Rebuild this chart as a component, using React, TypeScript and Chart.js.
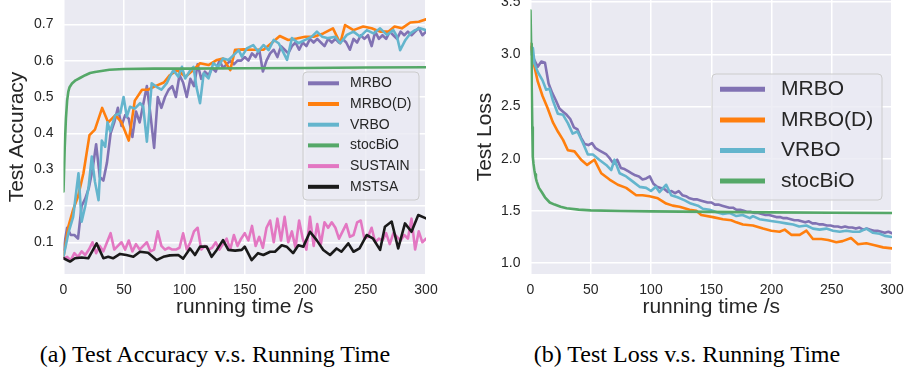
import React, { useEffect, useRef } from "react";
import { Chart, registerables } from "chart.js";

Chart.register(...registerables);

const FONT = '"Liberation Sans", Arial, sans-serif';
const TEXT = "#262626";

// ---------- (a) Test Accuracy ----------
const T3 = Array.from({ length: 101 }, (_, i) => i * 3);

const accMRBO = [
  0.08, 0.14, 0.12, 0.12, 0.11, 0.2, 0.22, 0.25, 0.3, 0.37,
  0.28, 0.27, 0.32, 0.4, 0.43, 0.47, 0.42, 0.45, 0.44, 0.39,
  0.46, 0.43, 0.48, 0.53, 0.45, 0.36, 0.5, 0.47, 0.5, 0.52,
  0.53, 0.5, 0.56, 0.54, 0.5, 0.55, 0.53, 0.59, 0.55, 0.57,
  0.56, 0.58, 0.57, 0.6, 0.58, 0.59, 0.6, 0.59, 0.6, 0.6,
  0.61, 0.6, 0.62, 0.61, 0.63, 0.57, 0.6, 0.62, 0.63, 0.61,
  0.64, 0.63, 0.62, 0.64, 0.65, 0.63, 0.65, 0.64, 0.66, 0.65,
  0.66, 0.65, 0.64, 0.66, 0.65, 0.66, 0.65, 0.66, 0.65, 0.63,
  0.66, 0.65, 0.67, 0.66, 0.67, 0.64, 0.68, 0.66, 0.67, 0.66,
  0.68, 0.67, 0.66, 0.68, 0.67, 0.68, 0.67, 0.68, 0.69, 0.67,
  0.68,
];

const accMRBODTime = [
  0, 4, 8, 12, 16.5, 21.5, 26, 32, 37, 43, 48, 54, 59, 65, 70, 76, 83, 88, 94, 101,
  106, 113, 120, 127, 132, 138, 142, 149, 157, 165.5, 172, 179, 186, 193, 200, 207,
  215, 223, 229, 233, 240, 248, 255, 262, 269, 274, 280, 287, 294, 300,
];
const accMRBOD = [
  0.06, 0.143, 0.19, 0.226, 0.29, 0.395, 0.41, 0.47, 0.43, 0.45, 0.43, 0.38, 0.49, 0.52,
  0.52, 0.53, 0.54, 0.56, 0.574, 0.556, 0.57, 0.593, 0.588, 0.602, 0.606, 0.574, 0.63,
  0.631, 0.63, 0.63, 0.648, 0.668, 0.657, 0.661, 0.666, 0.666, 0.675, 0.689, 0.648,
  0.698, 0.684, 0.694, 0.689, 0.68, 0.68, 0.694, 0.689, 0.705, 0.707, 0.714,
];

const accVRBOTime = [
  0, 4, 8, 12.4, 15, 18, 20.7, 23.4, 26, 29, 31.7, 34.5, 36.4, 38.6, 42.8, 47, 49.7,
  52.4, 55, 59, 63.4, 66, 69, 73, 77, 81, 85.5, 88, 91, 95, 98, 100.7, 105, 107.6, 110,
  113, 116, 120, 124, 128, 132, 136.6, 141, 145, 147.6, 151.7, 157, 161, 165.5, 169.7,
  174, 178, 181, 185, 189, 194.5, 200, 205.5, 209.7, 214, 219, 225, 229, 234.5, 240,
  245.5, 251, 256.5, 262, 267.6, 273, 276, 278.6, 283, 287, 291, 295, 300,
];
const accVRBO = [
  0.06, 0.125, 0.17, 0.29, 0.157, 0.2, 0.25, 0.336, 0.267, 0.216, 0.38, 0.363, 0.43,
  0.405, 0.45, 0.455, 0.5, 0.446, 0.473, 0.468, 0.483, 0.473, 0.377, 0.538, 0.528, 0.52,
  0.538, 0.556, 0.574, 0.556, 0.583, 0.551, 0.574, 0.583, 0.528, 0.483, 0.565, 0.551,
  0.593, 0.583, 0.606, 0.602, 0.616, 0.629, 0.611, 0.634, 0.643, 0.625, 0.643, 0.629,
  0.657, 0.648, 0.629, 0.602, 0.662, 0.648, 0.657, 0.666, 0.68, 0.666, 0.662, 0.666,
  0.648, 0.671, 0.68, 0.666, 0.684, 0.675, 0.689, 0.671, 0.684, 0.666, 0.629, 0.657,
  0.675, 0.684, 0.689, 0.684,
];

const accStocTime = [0, 1, 2, 3, 4, 5, 7, 10, 14, 18, 22, 26, 30, 38, 50, 75, 100, 150, 200, 250, 300];
const accStoc = [
  0.24, 0.36, 0.44, 0.49, 0.515, 0.527, 0.537, 0.546, 0.553, 0.56, 0.566, 0.569, 0.571,
  0.575, 0.577, 0.578, 0.578, 0.579, 0.58, 0.581, 0.582,
];

const accSUSTAIN = [
  0.055, 0.06, 0.05, 0.07, 0.06, 0.075, 0.065, 0.08, 0.1, 0.07,
  0.09, 0.075, 0.1, 0.125, 0.08, 0.09, 0.1, 0.08, 0.105, 0.075,
  0.095, 0.08, 0.09, 0.1, 0.075, 0.08, 0.13, 0.09, 0.08, 0.085,
  0.08, 0.08, 0.085, 0.125, 0.08, 0.1, 0.13, 0.14, 0.08, 0.09,
  0.08, 0.085, 0.1, 0.08, 0.095, 0.11, 0.08, 0.12, 0.09, 0.11,
  0.125, 0.105, 0.145, 0.09, 0.115, 0.085, 0.14, 0.16, 0.1, 0.165,
  0.105, 0.17, 0.1, 0.13, 0.085, 0.16, 0.11, 0.08, 0.17, 0.09,
  0.15, 0.095, 0.155, 0.14, 0.155, 0.14, 0.11, 0.13, 0.15, 0.115,
  0.12, 0.155, 0.16, 0.11, 0.115, 0.14, 0.1, 0.11, 0.105, 0.125,
  0.095, 0.125, 0.115, 0.105, 0.12, 0.11, 0.165, 0.08, 0.13, 0.1,
  0.11,
];

const accMSTSATime = [
  0, 5.4, 9.5, 15, 20.5, 27.4, 33, 37, 41, 46.8, 52, 57.8, 63.3, 70, 77, 82.6, 88, 95, 99,
  104.7, 108.8, 113, 118.5, 122.6, 126.8, 132, 136.4, 142, 147.5, 150, 155.7, 161, 165.4,
  171, 175, 180.6, 184.7, 190, 194.4, 198.5, 204, 209.5, 215, 220.6, 226, 230, 235.7, 240,
  245, 250.9, 256, 262, 266, 271.6, 277, 282.6, 288, 293.6, 300,
];
const accMSTSA = [
  0.056, 0.047, 0.056, 0.058, 0.056, 0.097, 0.056, 0.06, 0.056, 0.068, 0.065, 0.06, 0.074,
  0.071, 0.051, 0.06, 0.064, 0.065, 0.055, 0.083, 0.065, 0.088, 0.088, 0.06, 0.079, 0.106,
  0.079, 0.077, 0.079, 0.088, 0.051, 0.07, 0.065, 0.074, 0.074, 0.092, 0.088, 0.07, 0.092,
  0.088, 0.129, 0.106, 0.079, 0.065, 0.083, 0.074, 0.097, 0.074, 0.083, 0.12, 0.111, 0.079,
  0.143, 0.157, 0.083, 0.152, 0.129, 0.175, 0.166,
];

// ---------- (b) Test Loss ----------
const lossMRBO = [
  3.07, 2.95, 2.88, 2.93, 2.92, 2.72, 2.63, 2.56, 2.48, 2.45,
  2.42, 2.38, 2.3, 2.28, 2.2, 2.14, 2.13, 2.15, 2.1, 2.08,
  2.06, 2.04, 2.0, 1.95, 1.99, 1.91, 1.9, 1.88, 1.86, 1.84,
  1.83, 1.8, 1.81, 1.83, 1.76, 1.73, 1.72, 1.71, 1.68, 1.69,
  1.67, 1.69, 1.65, 1.64, 1.62, 1.61, 1.61, 1.6, 1.59, 1.58,
  1.58, 1.56, 1.56, 1.55, 1.54, 1.53, 1.53, 1.51, 1.51, 1.5,
  1.49, 1.49, 1.48, 1.48, 1.47, 1.46, 1.46, 1.45, 1.44, 1.44,
  1.43, 1.43, 1.42, 1.41, 1.41, 1.4, 1.39, 1.4, 1.38, 1.38,
  1.37, 1.37, 1.36, 1.36, 1.35, 1.35, 1.34, 1.35, 1.34, 1.34,
  1.33, 1.34, 1.32, 1.33, 1.32, 1.31, 1.31, 1.3, 1.29, 1.3,
  1.285,
];

const lossMRBODTime = [
  0, 3.3, 6, 10, 14, 18.5, 22.7, 27, 31, 36.5, 42, 47, 53, 58.7, 65.6, 72.5, 79.4, 87.7, 93,
  98.8, 105.7, 112.6, 118, 123.7, 132, 137.6, 141.7, 151.4, 159.7, 166.6, 170.8, 176.3,
  184.6, 193, 199.8, 206.7, 211, 216.4, 223.4, 229, 234.4, 241.3, 247, 253.8, 259, 266,
  271.8, 278.7, 285.6, 292.6, 300,
];
const lossMRBOD = [
  3.1, 2.88, 2.74, 2.6, 2.49, 2.35, 2.26, 2.18, 2.08, 2.07, 1.99, 1.94, 1.99, 1.86, 1.8,
  1.75, 1.72, 1.65, 1.65, 1.64, 1.62, 1.57, 1.55, 1.54, 1.51, 1.5, 1.46, 1.44, 1.42, 1.41,
  1.39, 1.37, 1.36, 1.33, 1.31, 1.3, 1.32, 1.27, 1.27, 1.31, 1.23, 1.23, 1.22, 1.2, 1.21,
  1.24, 1.18, 1.19, 1.17, 1.15, 1.14,
];

const lossVRBOTime = [
  0, 2, 3.3, 6, 10, 13, 15.8, 18.5, 22.7, 27, 31, 35, 39, 43.5, 47.6, 51.8, 57, 62.8, 67,
  69.7, 74, 79.4, 85, 90.5, 96, 100, 104, 107, 112.6, 116.8, 122, 128, 133, 139, 143,
  148.6, 154, 159.7, 165, 170.8, 176, 182, 184.6, 190, 195.7, 201, 206.7, 212, 218, 223,
  229, 234.4, 240, 245.5, 251, 256.6, 262, 267.6, 273, 278.7, 284, 289.8, 294, 300,
];
const lossVRBO = [
  3.0, 3.06, 2.91, 2.83, 2.75, 2.66, 2.67, 2.56, 2.43, 2.42, 2.34, 2.24, 2.26, 2.15, 2.04,
  2.04, 1.99, 1.94, 1.89, 1.99, 1.86, 1.83, 1.78, 1.73, 1.72, 1.69, 1.73, 1.68, 1.75, 1.65,
  1.63, 1.6, 1.57, 1.55, 1.52, 1.51, 1.49, 1.47, 1.48, 1.45, 1.46, 1.43, 1.45, 1.42, 1.41,
  1.4, 1.39, 1.38, 1.37, 1.35, 1.36, 1.33, 1.32, 1.33, 1.31, 1.3, 1.31, 1.3, 1.3, 1.33,
  1.29, 1.28, 1.26, 1.25,
];

const lossStocTime = [
  0, 0.5, 1, 1.5, 1.9, 2.5, 3.2, 3.8, 4.5, 5.2, 7, 9.3, 12, 16, 20, 25, 30, 40, 50, 75, 100,
  150, 200, 250, 300,
];
const lossStoc = [
  3.42, 3.1, 2.7, 2.3, 2.02, 1.95, 1.89, 1.85, 1.81, 1.78, 1.72, 1.68, 1.63, 1.58, 1.56,
  1.54, 1.525, 1.512, 1.505, 1.498, 1.495, 1.49, 1.485, 1.482, 1.48,
];

const C_MRBO = "#8172B3";
const C_MRBOD = "#FF7F0E";
const C_VRBO = "#64B5CD";
const C_STOC = "#55A868";
const C_SUSTAIN = "#E377C2";
const C_MSTSA = "#1A1A1A";

type Series = { label: string; t: number[]; v: number[]; color: string };

const accSeries: Series[] = [
  { label: "MRBO", t: T3, v: accMRBO, color: C_MRBO },
  { label: "MRBO(D)", t: accMRBODTime, v: accMRBOD, color: C_MRBOD },
  { label: "VRBO", t: accVRBOTime, v: accVRBO, color: C_VRBO },
  { label: "stocBiO", t: accStocTime, v: accStoc, color: C_STOC },
  { label: "SUSTAIN", t: T3, v: accSUSTAIN, color: C_SUSTAIN },
  { label: "MSTSA", t: accMSTSATime, v: accMSTSA, color: C_MSTSA },
];

const lossSeries: Series[] = [
  { label: "MRBO", t: T3, v: lossMRBO, color: C_MRBO },
  { label: "MRBO(D)", t: lossMRBODTime, v: lossMRBOD, color: C_MRBOD },
  { label: "VRBO", t: lossVRBOTime, v: lossVRBO, color: C_VRBO },
  { label: "stocBiO", t: lossStocTime, v: lossStoc, color: C_STOC },
];

const pts = (t: number[], v: number[]) => t.map((x, i) => ({ x, y: v[i] }));

const bgPlugin = {
  id: "bg",
  beforeDraw(chart: any) {
    const { ctx, chartArea: a } = chart;
    ctx.save();
    ctx.fillStyle = "#EAEAF2";
    ctx.fillRect(a.left, a.top, a.right - a.left, a.bottom - a.top);
    ctx.restore();
  },
};

type LegendCfg = {
  right: number; top: number; width: number; height: number;
  firstRow: number; rowGap: number; handleX: number; handleLen: number;
  handleWidth: number; textX: number; fontSize: number;
};

function legendPlugin(cfg: LegendCfg) {
  return {
    id: "boxLegend",
    afterDatasetsDraw(chart: any) {
      const { ctx, chartArea: a } = chart;
      const x0 = a.right - cfg.right - cfg.width;
      const y0 = a.top + cfg.top;
      ctx.save();
      const r = 4;
      ctx.beginPath();
      ctx.moveTo(x0 + r, y0);
      ctx.lineTo(x0 + cfg.width - r, y0);
      ctx.arcTo(x0 + cfg.width, y0, x0 + cfg.width, y0 + r, r);
      ctx.lineTo(x0 + cfg.width, y0 + cfg.height - r);
      ctx.arcTo(x0 + cfg.width, y0 + cfg.height, x0 + cfg.width - r, y0 + cfg.height, r);
      ctx.lineTo(x0 + r, y0 + cfg.height);
      ctx.arcTo(x0, y0 + cfg.height, x0, y0 + cfg.height - r, r);
      ctx.lineTo(x0, y0 + r);
      ctx.arcTo(x0, y0, x0 + r, y0, r);
      ctx.closePath();
      ctx.fillStyle = "rgba(234,234,242,0.8)";
      ctx.fill();
      ctx.strokeStyle = "#CCCCCC";
      ctx.lineWidth = 1;
      ctx.stroke();
      chart.data.datasets.forEach((ds: any, i: number) => {
        const cy = y0 + cfg.firstRow + i * cfg.rowGap;
        ctx.strokeStyle = ds.borderColor;
        ctx.lineWidth = cfg.handleWidth;
        ctx.lineCap = "butt";
        ctx.beginPath();
        ctx.moveTo(x0 + cfg.handleX, cy);
        ctx.lineTo(x0 + cfg.handleX + cfg.handleLen, cy);
        ctx.stroke();
        ctx.fillStyle = TEXT;
        ctx.font = `${cfg.fontSize}px ${FONT}`;
        ctx.textBaseline = "middle";
        ctx.textAlign = "left";
        ctx.fillText(ds.label, x0 + cfg.textX, cy);
      });
      ctx.restore();
    },
  };
}

type Params = {
  series: Series[]; yMin: number; yMax: number; yStep: number; yTitle: string;
  yWidth: number; yTitlePad: number; padRight: number; legend: LegendCfg;
};

function buildConfig(p: Params): any {
  const n = p.series.length;
  return {
    type: "line",
    data: {
      datasets: p.series.map((s, i) => ({
        label: s.label,
        data: pts(s.t, s.v),
        borderColor: s.color,
        backgroundColor: s.color,
        borderWidth: 2.6,
        pointRadius: 0,
        tension: 0,
        fill: false,
        order: n - i,
        borderJoinStyle: "round",
        borderCapStyle: "round",
      })),
    },
    options: {
      responsive: false,
      animation: false,
      events: [],
      layout: { padding: { left: 0, top: 0, right: p.padRight, bottom: 0 } },
      plugins: { legend: { display: false }, tooltip: { enabled: false } },
      scales: {
        x: {
          type: "linear",
          min: 0,
          max: 300,
          border: { display: false },
          grid: { color: "#FFFFFF", lineWidth: 1.5, drawTicks: false },
          ticks: {
            stepSize: 50,
            padding: 8,
            color: TEXT,
            font: { family: FONT, size: 14 },
            maxRotation: 0,
            autoSkip: false,
            includeBounds: false,
          },
          title: {
            display: true,
            text: "running time /s",
            color: TEXT,
            font: { family: FONT, size: 21 },
            padding: { top: 0, bottom: 10 },
          },
          afterFit: (s: any) => {
            s.height = 56;
            s.paddingLeft = 0;
            s.paddingRight = 0;
          },
        },
        y: {
          type: "linear",
          min: p.yMin,
          max: p.yMax,
          border: { display: false },
          grid: { color: "#FFFFFF", lineWidth: 1.5, drawTicks: false },
          ticks: {
            stepSize: p.yStep,
            padding: 10,
            color: TEXT,
            font: { family: FONT, size: 14 },
            includeBounds: false,
            callback: (v: any) => Number(v).toFixed(1),
          },
          title: {
            display: true,
            text: p.yTitle,
            color: TEXT,
            font: { family: FONT, size: 21 },
            padding: { top: p.yTitlePad, bottom: 0 },
          },
          afterFit: (s: any) => {
            s.width = p.yWidth;
            s.paddingTop = 0;
            s.paddingBottom = 0;
          },
        },
      },
    },
    plugins: [bgPlugin, legendPlugin(p.legend)],
  };
}

const accParams: Params = {
  series: accSeries,
  yMin: 0.0127,
  yMax: 0.767,
  yStep: 0.1,
  yTitle: "Test Accuracy",
  yWidth: 63.5,
  yTitlePad: 5,
  padRight: 24,
  legend: {
    right: 7, top: 72, width: 116, height: 128, firstRow: 11.3, rowGap: 20.7,
    handleX: 5, handleLen: 31, handleWidth: 4, textX: 47, fontSize: 14,
  },
};

const lossParams: Params = {
  series: lossSeries,
  yMin: 0.895,
  yMax: 3.52,
  yStep: 0.5,
  yTitle: "Test Loss",
  yWidth: 78.5,
  yTitlePad: 21,
  padRight: 13,
  legend: {
    right: 10, top: 74, width: 170, height: 126, firstRow: 15.3, rowGap: 30.6,
    handleX: 8, handleLen: 45, handleWidth: 5, textX: 69, fontSize: 21,
  },
};

function ChartCanvas({ params, left, width, height }: { params: Params; left: number; width: number; height: number }) {
  const ref = useRef<HTMLCanvasElement | null>(null);
  useEffect(() => {
    if (!ref.current) return;
    const chart = new Chart(ref.current, buildConfig(params));
    return () => chart.destroy();
  }, [params]);
  return (
    <canvas
      ref={ref}
      width={width}
      height={height}
      style={{ position: "absolute", left, top: 0, width, height }}
    />
  );
}

const captionStyle: React.CSSProperties = {
  position: "absolute",
  top: 341,
  height: 26,
  lineHeight: "26px",
  fontFamily: '"Liberation Serif", "Times New Roman", serif',
  fontSize: 24,
  color: "#000",
  textAlign: "center",
  whiteSpace: "nowrap",
};

export default function App() {
  return (
    <div style={{ position: "absolute", left: 0, top: 0, width: 905, height: 375, background: "#FFFFFF", overflow: "hidden" }}>
      <ChartCanvas params={accParams} left={0} width={450} height={330} />
      <ChartCanvas params={lossParams} left={452} width={453} height={330} />
      <div style={{ ...captionStyle, left: 15, width: 400 }}>(a) Test Accuracy v.s. Running Time</div>
      <div style={{ ...captionStyle, left: 487, width: 400 }}>(b) Test Loss v.s. Running Time</div>
    </div>
  );
}
